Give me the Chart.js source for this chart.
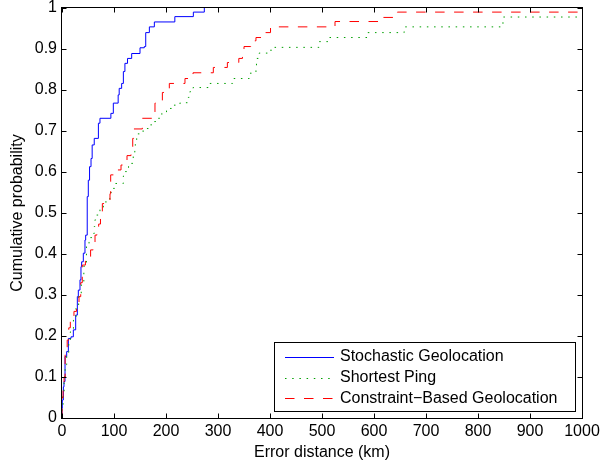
<!DOCTYPE html>
<html>
<head>
<meta charset="utf-8">
<script src="https://cdn.jsdelivr.net/npm/chart.js@4.4.1/dist/chart.umd.min.js"></script>
<style>
  html, body { margin: 0; padding: 0; background: #fff; }
  canvas { display: block; }
</style>
</head>
<body>
<canvas id="grafica" width="601" height="466"></canvas>
<script>
// Datos: distancia de error (km) y probabilidad acumulada tras cada salto
const stochasticKm = [0, 0, 0.6, 2.6, 3.8, 5.8, 9, 12.2, 17.3, 21.8, 26.3, 29.5, 31.4, 34.6, 36.5, 37.8, 41, 44.2, 45.5, 48.5,
  50.6, 53, 55.8, 58, 62, 70, 73, 94, 98.7, 108, 110, 114.7, 118, 121, 126, 134, 150, 158.3, 161, 168, 177.6, 217, 252.6, 273.7];
const stochasticProb = [0, 0.024, 0.044, 0.076, 0.089, 0.15, 0.162, 0.194, 0.198, 0.215, 0.251, 0.296, 0.312, 0.337, 0.369, 0.381, 0.402, 0.434, 0.446, 0.54,
  0.58, 0.613, 0.633, 0.666, 0.682, 0.719, 0.731, 0.743, 0.768, 0.788, 0.804, 0.816, 0.845, 0.865, 0.877, 0.889, 0.903, 0.906, 0.94, 0.954, 0.966, 0.979, 0.99, 1];

const shortestKm = [0, 0, 2, 4, 6, 9, 13, 16, 22, 27, 32, 37, 42, 47, 52, 60, 62, 63, 65, 73,
  79.5, 92, 96, 102, 118, 120, 128, 137, 140, 141, 143.6, 153, 156, 166, 175, 181, 192, 201, 213, 227,
  243, 246, 252, 283, 328, 360, 373, 374, 379, 395, 405, 494, 512, 587, 658, 848, 1000];
const shortestProb = [0, 0.03, 0.06, 0.1, 0.13, 0.16, 0.19, 0.21, 0.24, 0.27, 0.3, 0.33, 0.37, 0.42, 0.44, 0.45, 0.467, 0.483, 0.495, 0.51,
  0.527, 0.55, 0.56, 0.572, 0.59, 0.601, 0.621, 0.648, 0.665, 0.678, 0.693, 0.696, 0.706, 0.715, 0.723, 0.731, 0.743, 0.755, 0.763, 0.769,
  0.782, 0.796, 0.806, 0.816, 0.828, 0.841, 0.85, 0.877, 0.89, 0.897, 0.904, 0.918, 0.928, 0.94, 0.954, 0.978, 0.978];

const constraintKm = [0, 0, 2, 4, 6, 10, 13, 16, 23, 28, 32.7, 36, 39, 45, 55, 60, 63.5, 67, 70.5, 74,
  77.6, 85, 92.3, 93.6, 100, 113.5, 125, 132.7, 136, 138, 154.5, 175, 178.8, 193, 206.4, 236.5, 252, 291, 318, 340,
  347, 350, 363, 373, 386, 401, 525, 610, 645, 1000];
const constraintProb = [0, 0.05, 0.068, 0.1, 0.154, 0.19, 0.22, 0.235, 0.26, 0.27, 0.296, 0.33, 0.373, 0.385, 0.41, 0.42, 0.446, 0.455, 0.473, 0.5,
  0.523, 0.53, 0.547, 0.593, 0.605, 0.617, 0.64, 0.652, 0.682, 0.705, 0.731, 0.745, 0.768, 0.794, 0.816, 0.828, 0.842, 0.855, 0.867, 0.877,
  0.883, 0.906, 0.92, 0.928, 0.94, 0.954, 0.967, 0.977, 0.99, 0.99];

const xTickLabels = ['0', '100', '200', '300', '400', '500', '600', '700', '800', '900', '1000'];
const yTickLabels = ['0', '0.1', '0.2', '0.3', '0.4', '0.5', '0.6', '0.7', '0.8', '0.9', '1'];

const fuente = '"Liberation Sans", Arial, Helvetica, sans-serif';
const puntos = (xs, ys) => xs.map((x, i) => ({ x, y: ys[i] }));

// Marco negro con marcas hacia dentro (estilo MATLAB) y leyenda con borde
const marco = {
  id: 'marco',
  afterDraw(chart) {
    const { ctx, chartArea: a, scales: { x, y } } = chart;
    const L = a.left - 0.5, R = a.right + 0.5, T = a.top - 0.5, B = a.bottom + 0.5;
    ctx.save();
    ctx.strokeStyle = '#000';
    ctx.lineWidth = 1;
    ctx.setLineDash([]);
    ctx.beginPath();
    x.ticks.forEach(t => {
      const px = Math.round(x.getPixelForValue(t.value)) + 0.5;
      ctx.moveTo(px, B); ctx.lineTo(px, B - 5);
      ctx.moveTo(px, T); ctx.lineTo(px, T + 5);
    });
    y.ticks.forEach(t => {
      const py = Math.round(y.getPixelForValue(t.value)) + 0.5;
      ctx.moveTo(L, py); ctx.lineTo(L + 5, py);
      ctx.moveTo(R, py); ctx.lineTo(R - 5, py);
    });
    ctx.stroke();
    ctx.strokeRect(L, T, R - L, B - T);

    // leyenda
    const lx = 274.5, ly = 342.5, lw = 301, lh = 69;
    ctx.fillStyle = '#fff';
    ctx.fillRect(lx, ly, lw, lh);
    ctx.strokeRect(lx, ly, lw, lh);
    ctx.font = '16px ' + fuente;
    ctx.textBaseline = 'middle';
    chart.data.datasets.forEach((d, i) => {
      const fy = 357 + i * 20.7;
      ctx.strokeStyle = d.borderColor;
      ctx.setLineDash(d.borderDash || []);
      ctx.beginPath();
      ctx.moveTo(285, Math.round(fy) + 0.5);
      ctx.lineTo(334, Math.round(fy) + 0.5);
      ctx.stroke();
      ctx.fillStyle = '#000';
      ctx.fillText(d.label, 340, fy);
    });
    ctx.restore();
  }
};

new Chart(document.getElementById('grafica'), {
  type: 'line',
  data: {
    datasets: [
      { label: 'Stochastic Geolocation', data: puntos(stochasticKm, stochasticProb),
        borderColor: '#0000ff', borderWidth: 1, stepped: 'before', pointRadius: 0, order: 3 },
      { label: 'Shortest Ping', data: puntos(shortestKm, shortestProb),
        borderColor: '#00a000', borderWidth: 1, borderDash: [1.5, 5.7], stepped: 'before', pointRadius: 0, order: 2 },
      { label: 'Constraint\u2212Based Geolocation', data: puntos(constraintKm, constraintProb),
        borderColor: '#ff0000', borderWidth: 1, borderDash: [9.5, 9.5], stepped: 'before', pointRadius: 0, order: 1 },
    ],
  },
  options: {
    responsive: false,
    animation: false,
    events: [],
    layout: { padding: { top: 8, right: 19, bottom: 0, left: 0 } },
    plugins: { legend: { display: false }, tooltip: { enabled: false } },
    scales: {
      x: {
        type: 'linear', min: 0, max: 1000,
        grid: { display: false, drawTicks: false },
        border: { display: false },
        ticks: { stepSize: 100, autoSkip: false, maxRotation: 0, padding: 4, color: '#000',
                 font: { family: fuente, size: 16 }, callback: (v, i) => xTickLabels[i] },
        title: { display: true, text: 'Error distance (km)', color: '#000',
                 font: { family: fuente, size: 16 }, padding: { top: 0, bottom: 4 } },
        afterFit(s) { s.height = 48; s.paddingLeft = 0; s.paddingRight = 0; },
      },
      y: {
        type: 'linear', min: 0, max: 1,
        grid: { display: false, drawTicks: false },
        border: { display: false },
        ticks: { stepSize: 0.1, autoSkip: false, padding: 5, color: '#000',
                 font: { family: fuente, size: 16 }, callback: (v, i) => yTickLabels[i] },
        title: { display: true, text: 'Cumulative probability', color: '#000',
                 font: { family: fuente, size: 16 }, padding: { top: 8, bottom: 0 } },
        afterFit(s) { s.width = 62; s.paddingTop = 0; s.paddingBottom = 0; },
      },
    },
  },
  plugins: [marco],
});
</script>
</body>
</html>
